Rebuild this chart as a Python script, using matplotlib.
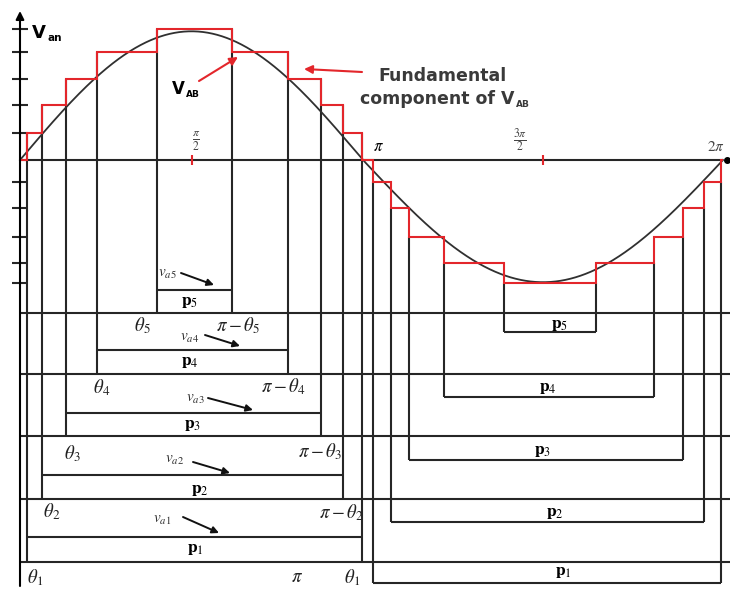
import numpy as np
import matplotlib
matplotlib.use("Agg")
import matplotlib.pyplot as plt

plt.rcParams["mathtext.fontset"] = "stix"
plt.rcParams["font.family"] = ["Liberation Serif", "DejaVu Serif"]

# ---------------- data (angles in degrees, levels in step units) ----------------
step_edges = [0, 3.7, 11.5, 24.1, 40.4, 71.9, 111.3, 140.6, 158.0, 169.5, 179.5,
              185.0, 194.0, 203.0, 220.5, 250.5, 296.5, 325.5, 340.0, 350.5, 359.0, 360.0]
step_levels = [0, 1.04, 2.12, 3.12, 4.15, 5.04, 4.15, 3.12, 2.12, 1.04, 0,
               -0.85, -1.85, -2.96, -3.96, -4.73, -3.96, -2.96, -1.85, -0.85, 0]
fund_amp_pos = 4.95
fund_amp_neg = 4.70

pos_rise = [3.7, 11.5, 24.1, 40.4, 71.9]        # theta_1 .. theta_5
pos_fall = [179.5, 169.5, 158.0, 140.6, 111.3]  # pi - theta_k
pos_level = [1.04, 2.12, 3.12, 4.15, 5.04]
neg_fall = [185.0, 194.0, 203.0, 220.5, 250.5]
neg_rise = [359.0, 350.5, 340.0, 325.5, 296.5]
neg_level = [-0.85, -1.85, -2.96, -3.96, -4.73]
box_labels = [r"$\mathbf{p}_1$", r"$\mathbf{p}_2$", r"$\mathbf{p}_3$", r"$\mathbf{p}_4$", r"$\mathbf{p}_5$"]

# ---------------- layout (image rows / columns in px) ----------------
W, H = 730, 589
ZERO_PX, UNIT_PX = 160, 26.0
left_box_top = [537, 475, 413, 350, 290]
left_box_bot = [562, 499, 436, 374, 313]
right_box_bot = [583, 522, 460, 397, 332]


def yl(py):
    return (ZERO_PX - py) / UNIT_PX


def fwd(a):
    a = np.asarray(a, dtype=float)
    return np.where(a <= 180, 20 + a * 343.0 / 180.0, 363 + (a - 180) * 2.0)


def inv(p):
    p = np.asarray(p, dtype=float)
    return np.where(p <= 363, (p - 20) * 180.0 / 343.0, 180 + (p - 363) / 2.0)


LC = "#262626"
RED = "#e3262b"
LW = 1.5

fig = plt.figure(figsize=(W / 100, H / 100), dpi=100)
ax = fig.add_axes([0, 0, 1, 1])
ax.set_xscale("function", functions=(fwd, inv))
ax.set_xlim(float(inv(0)), float(inv(W)))
ax.set_ylim(yl(H), yl(0))
ax.axis("off")

# fundamental
th = np.linspace(0, 360, 1441)
s = np.sin(np.radians(th))
fund = np.where(th <= 180, fund_amp_pos * s, fund_amp_neg * s)
ax.plot(th, fund, color="#303030", lw=1.3, zorder=4)

# staircase
ax.stairs(step_levels, step_edges, baseline=None, color=RED, lw=1.5, zorder=5)

# axes lines
xr = float(inv(W))
ax.hlines(0, 0, 360, color=LC, lw=LW, zorder=3)
ax.plot([362], [0], "o", color="black", ms=4, zorder=6)
ax.annotate("", xy=(0, yl(11)), xytext=(0, yl(586)),
            arrowprops=dict(arrowstyle="-|>", color="black", lw=LW, mutation_scale=12,
                            shrinkA=0, shrinkB=0), zorder=6)
tick_l, tick_r = float(inv(12)), float(inv(28))
ax.hlines(pos_level + neg_level, tick_l, tick_r, color=LC, lw=LW)

# boxes of the positive half
for k in range(5):
    yb = yl(left_box_bot[k])
    ax.vlines([pos_rise[k], pos_fall[k]], yb, pos_level[k], color=LC, lw=LW, zorder=2)
    ax.hlines(yl(left_box_top[k]), pos_rise[k], pos_fall[k], color=LC, lw=LW, zorder=2)
    ax.hlines(yb, 0, xr, color=LC, lw=LW, zorder=2)

# boxes of the negative half
for k in range(5):
    yb = yl(right_box_bot[k])
    ax.vlines([neg_fall[k], neg_rise[k]], yb, neg_level[k], color=LC, lw=LW, zorder=2)
    ax.hlines(yb, neg_fall[k], neg_rise[k], color=LC, lw=LW, zorder=2)

# red ticks at pi/2 and 3pi/2
ax.vlines([90, 270], -0.2, 0.2, color=RED, lw=1.5, zorder=6)

# ---------------- text overlay in pixel coordinates ----------------
lay = fig.add_axes([0, 0, 1, 1])
lay.set_xlim(0, W)
lay.set_ylim(H, 0)
lay.axis("off")
lay.patch.set_alpha(0)

sans = ["DejaVu Sans"]


def sub(parent, s, size, color="black"):
    lay.annotate(s, xy=(1.0, 0.0), xycoords=parent, xytext=(1, -1), textcoords="offset points",
                 fontsize=size, fontweight="bold", family=sans, color=color,
                 ha="left", va="bottom")


t = lay.text(32, 33, "V", fontsize=13, fontweight="bold", family=sans, va="center", ha="left")
sub(t, "an", 7.5)
t = lay.text(172, 89, "V", fontsize=12, fontweight="bold", family=sans, va="center", ha="left")
sub(t, "AB", 6.5)
GC = "#3a3a3a"
lay.text(442, 76, "Fundamental", fontsize=12.5, fontweight="bold", family=sans,
         color=GC, va="center", ha="center")
t = lay.text(437, 99, "component of V", fontsize=12.5, fontweight="bold", family=sans,
             color=GC, va="center", ha="center")
sub(t, "AB", 6.5, GC)

red_arrow = dict(arrowstyle="-|>", color=RED, lw=1.5, mutation_scale=12, shrinkA=0, shrinkB=0)
lay.annotate("", xy=(238, 57), xytext=(199, 81), arrowprops=red_arrow)
lay.annotate("", xy=(304, 69), xytext=(362, 72), arrowprops=red_arrow)

lay.text(196, 141, r"$\frac{\pi}{2}$", fontsize=12, ha="center", va="center", color="#444")
lay.text(378, 147, r"$\pi$", fontsize=12, ha="center", va="center")
lay.text(520, 140, r"$\frac{3\pi}{2}$", fontsize=12, ha="center", va="center", color="#444")
lay.text(716, 147, r"$2\pi$", fontsize=11, ha="center", va="center", color="#444")

# labels of the boxes
plabel_left = [(195, 549), (200, 490), (193, 425), (190, 362), (190, 302)]
plabel_right = [(563, 572), (555, 513), (543, 451), (548, 388), (560, 325)]
for k in range(5):
    lay.text(*plabel_left[k], box_labels[k], fontsize=12.5, ha="center", va="center")
    lay.text(*plabel_right[k], box_labels[k], fontsize=12.5, ha="center", va="center")

theta_lab = [(52, 512, r"$\theta_2$"), (72, 454, r"$\theta_3$"), (102, 388, r"$\theta_4$"),
             (142, 326, r"$\theta_5$"), (35, 578, r"$\theta_1$"), (352, 578, r"$\theta_1$"),
             (297, 578, r"$\pi$"),
             (342, 513, r"$\pi-\theta_2$"), (320, 452, r"$\pi-\theta_3$"),
             (283, 387, r"$\pi-\theta_4$"), (238, 326, r"$\pi-\theta_5$")]
for x, y, s_ in theta_lab:
    lay.text(x, y, s_, fontsize=13.5, ha="center", va="center", color="#222")

v_lab = [(162, 520, r"$v_{a1}$", (183, 517), (219, 533)),
         (175, 460, r"$v_{a2}$", (193, 462), (230, 473)),
         (195, 399, r"$v_{a3}$", (208, 398), (253, 410)),
         (190, 338, r"$v_{a4}$", (205, 335), (240, 346)),
         (167, 274, r"$v_{a5}$", (181, 273), (214, 285))]
black_arrow = dict(arrowstyle="-|>", color="#111", lw=1.4, mutation_scale=10, shrinkA=0, shrinkB=0)
for x, y, s_, a0, a1 in v_lab:
    lay.text(x, y, s_, fontsize=11, ha="center", va="center", color="#333")
    lay.annotate("", xy=a1, xytext=a0, arrowprops=black_arrow)

fig.savefig("out.png", dpi=100)
